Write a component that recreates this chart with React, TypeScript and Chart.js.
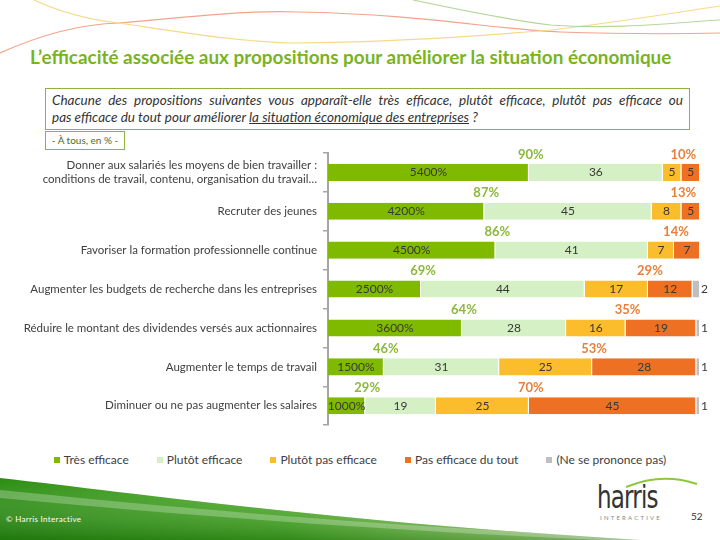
import React, { useEffect, useRef } from "react";
import { Chart, registerables } from "chart.js";

Chart.register(...registerables);

const categories: (string | string[])[] = [
  ["Donner aux salariés les moyens de bien travailler :", "conditions de travail, contenu, organisation du travail…"],
  "Recruter des jeunes",
  "Favoriser la formation professionnelle continue",
  "Augmenter les budgets de recherche dans les entreprises",
  "Réduire le montant des dividendes versés aux actionnaires",
  "Augmenter le temps de travail",
  "Diminuer ou ne pas augmenter les salaires",
];

const seriesNames = [
  "Très efficace",
  "Plutôt efficace",
  "Plutôt pas efficace",
  "Pas efficace du tout",
  "(Ne se prononce pas)",
];

const tresEfficace = [54, 42, 45, 25, 36, 15, 10];
const plutotEfficace = [36, 45, 41, 44, 28, 31, 19];
const plutotPasEfficace = [5, 8, 7, 17, 16, 25, 25];
const pasEfficaceDuTout = [5, 5, 7, 12, 19, 28, 45];
const neSePrononcePas = [0, 0, 0, 2, 1, 1, 1];

const seriesColors = ["#7fba00", "#d4f0c4", "#fbbd2c", "#ee7023", "#bfbfbf"];

const FONT = "Lato, 'Open Sans', sans-serif";

const labelsPlugin = {
  id: "valueLabels",
  afterDatasetsDraw(chart: any) {
    const ctx = chart.ctx;
    ctx.save();
    ctx.textBaseline = "middle";
    chart.data.datasets.forEach((ds: any, di: number) => {
      const meta = chart.getDatasetMeta(di);
      meta.data.forEach((bar: any, i: number) => {
        const v = ds.data[i];
        if (!v) return;
        const p = bar.getProps(["x", "y", "base"], true);
        ctx.fillStyle = "#383838";
        ctx.font = `12px ${FONT}`;
        if (di === 4) {
          ctx.textAlign = "left";
          ctx.fillText(String(v), p.x + 1, p.y);
        } else {
          ctx.textAlign = "center";
          const txt = di === 0 ? `${v * 100}%` : String(v);
          ctx.fillText(txt, (p.x + p.base) / 2, p.y);
        }
      });
    });
    const xs = chart.scales.x;
    const ys = chart.scales.y;
    ctx.font = `bold 13px ${FONT}`;
    ctx.textAlign = "center";
    categories.forEach((_, i) => {
      const yc = ys.getPixelForValue(i) - 18;
      const pos = tresEfficace[i] + plutotEfficace[i];
      ctx.fillStyle = "#8cb83c";
      ctx.fillText(`${pos}%`, xs.getPixelForValue(tresEfficace[i]) + 2, yc);
      const neg = plutotPasEfficace[i] + pasEfficaceDuTout[i];
      ctx.fillStyle = "#e8803c";
      ctx.fillText(
        `${neg}%`,
        xs.getPixelForValue(tresEfficace[i] + plutotEfficace[i] + plutotPasEfficace[i]) + 2,
        yc
      );
    });
    ctx.restore();
  },
};

function BarChart() {
  const ref = useRef<HTMLCanvasElement | null>(null);
  useEffect(() => {
    if (!ref.current) return;
    const values = [tresEfficace, plutotEfficace, plutotPasEfficace, pasEfficaceDuTout, neSePrononcePas];
    const chart = new Chart(ref.current, {
      type: "bar",
      data: {
        labels: categories,
        datasets: values.map((d, k) => ({
          label: seriesNames[k],
          data: d,
          backgroundColor: seriesColors[k],
          borderColor: "#ffffff",
          borderWidth: { top: 0, bottom: 0, left: 0, right: 1 },
          borderSkipped: false,
          barPercentage: 0.44,
          categoryPercentage: 1,
        })),
      },
      options: {
        indexAxis: "y",
        responsive: false,
        animation: false,
        layout: { padding: { top: 9, right: 20, bottom: 7, left: 0 } },
        plugins: { legend: { display: false }, tooltip: { enabled: false } },
        scales: {
          x: { stacked: true, display: false, min: 0, max: 100 },
          y: {
            stacked: true,
            grid: {
              display: true,
              drawOnChartArea: false,
              drawTicks: true,
              tickLength: 5,
              color: "#a6a6a6",
              lineWidth: 1.5,
              offset: true,
            },
            border: { display: true, color: "#a6a6a6", width: 2 },
            ticks: {
              color: "#404040",
              font: { family: FONT, size: 11.5 },
              padding: 6,
            },
            afterFit: (s: any) => {
              s.width = 328;
            },
          },
        },
      },
      plugins: [labelsPlugin],
    } as any);
    return () => chart.destroy();
  }, []);
  return <canvas ref={ref} width={720} height={305} style={{ display: "block" }} />;
}

export default function App() {
  return (
    <div
      style={{
        position: "absolute",
        left: 0,
        top: 0,
        width: 720,
        height: 540,
        overflow: "hidden",
        background: "#ffffff",
        fontFamily: FONT,
      }}
    >
      <svg width={720} height={80} style={{ position: "absolute", left: 0, top: 0 }}>
        <path d="M0,53 C40,35 80,24 119,23 C180,18 240,10 298,12 C420,14 500,30 560,32 C620,34 680,34 720,33" fill="none" stroke="#f3a38c" strokeWidth={1.2} />
        <path d="M34,0 C60,12 90,20 119,23 C180,32 240,42 294,43 C400,42 480,36 551,30 C620,22 680,12 720,6" fill="none" stroke="#f6d98a" strokeWidth={1.2} />
        <path d="M413,0 C460,10 510,20 551,25 C620,30 680,22 720,20" fill="none" stroke="#b4d79a" strokeWidth={1.2} />
      </svg>
      <svg width={720} height={80} style={{ position: "absolute", left: 0, top: 460 }}>
        <defs>
          <linearGradient id="sw" x1="0" y1="0" x2="1" y2="0">
            <stop offset="0" stopColor="#2a8c10" />
            <stop offset="0.45" stopColor="#4fae28" />
            <stop offset="0.8" stopColor="#b0dc82" />
            <stop offset="1" stopColor="#e9f6dc" />
          </linearGradient>
          <linearGradient id="sw2" x1="0" y1="0" x2="0" y2="1">
            <stop offset="0" stopColor="#ffffff" stopOpacity="0" />
            <stop offset="1" stopColor="#0d5e05" stopOpacity="0.45" />
          </linearGradient>
        </defs>
        <path d="M0,18 C150,35 350,63 640,80 L0,80 Z" fill="url(#sw)" />
        <path d="M0,18 C150,35 350,63 640,80 L0,80 Z" fill="url(#sw2)" />
        <path d="M0,30 C200,50 420,70 700,80 L600,80 C380,70 180,55 0,38 Z" fill="#ffffff" opacity={0.25} />
      </svg>

      <div
        style={{
          position: "absolute",
          left: 30,
          top: 45,
          fontSize: 18.9,
          fontWeight: 700,
          color: "#78b41e",
          whiteSpace: "nowrap",
        }}
      >
        L’efficacité associée aux propositions pour améliorer la situation économique
      </div>

      <div
        style={{
          position: "absolute",
          left: 45,
          top: 88,
          width: 645,
          height: 42,
          boxSizing: "border-box",
          border: "1px solid #8db33a",
          padding: "3px 6px",
          fontSize: 13.5,
          lineHeight: "17px",
          fontStyle: "italic",
          color: "#333333",
        }}
      >
        <div style={{ textAlign: "justify", textAlignLast: "justify", whiteSpace: "nowrap" } as any}>
          Chacune des propositions suivantes vous apparaît-elle très efficace, plutôt efficace, plutôt pas efficace ou
        </div>
        <div>
          pas efficace du tout pour améliorer{" "}
          <span style={{ textDecoration: "underline" }}>la situation économique des entreprises</span> ?
        </div>
      </div>

      <div
        style={{
          position: "absolute",
          left: 45,
          top: 131,
          width: 80,
          height: 19,
          boxSizing: "border-box",
          border: "1px solid #8db33a",
          fontSize: 10,
          lineHeight: "17px",
          color: "#4f6b1f",
          textAlign: "center",
        }}
      >
        - À tous, en % -
      </div>

      <div style={{ position: "absolute", left: 0, top: 140, width: 720, height: 305 }}>
        <BarChart />
      </div>

      <div
        style={{
          position: "absolute",
          left: 0,
          top: 452,
          width: 720,
          display: "flex",
          justifyContent: "center",
          gap: 28,
          fontSize: 12,
          color: "#404040",
        }}
      >
        {seriesNames.map((n, k) => (
          <div key={n} style={{ display: "flex", alignItems: "center", gap: 4 }}>
            <span style={{ width: 6, height: 6, background: seriesColors[k], display: "inline-block" }} />
            <span>{n}</span>
          </div>
        ))}
      </div>

      <div style={{ position: "absolute", left: 6, top: 514, fontSize: 8, color: "#ffffff", letterSpacing: 0.3 }}>
        © Harris Interactive
      </div>

      <svg width={720} height={60} style={{ position: "absolute", left: 0, top: 470 }}>
        <path d="M626,17 Q662,2 697,14" fill="none" stroke="#8dc63f" strokeWidth={2} />
      </svg>
      <div
        style={{
          position: "absolute",
          left: 597,
          top: 481,
          fontSize: 32,
          fontWeight: 300,
          color: "#333333",
          fontFamily: "'DejaVu Sans Condensed', 'Liberation Sans Narrow', sans-serif",
          letterSpacing: -1,
          lineHeight: "32px",
          transform: "scaleX(0.8)",
          transformOrigin: "left top",
        }}
      >
        harris
      </div>
      <div style={{ position: "absolute", left: 600, top: 514, fontSize: 6, letterSpacing: 2.2, color: "#888888" }}>
        INTERACTIVE
      </div>
      <div style={{ position: "absolute", left: 691, top: 510, fontSize: 10, color: "#333333" }}>52</div>
    </div>
  );
}
